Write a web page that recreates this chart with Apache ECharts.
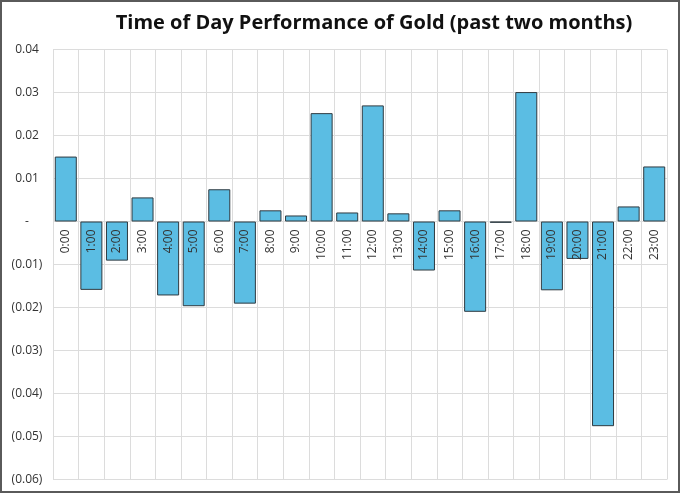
<!DOCTYPE html>
<html>
<head>
<meta charset="utf-8">
<script src="https://cdn.jsdelivr.net/npm/echarts@6/dist/echarts.min.js"></script>
<style>
html,body{margin:0;padding:0;background:#fff;}
#chart{width:680px;height:493px;}
</style>
</head>
<body>
<div id="chart"></div>
<script>
const hours = ['0:00','1:00','2:00','3:00','4:00','5:00','6:00','7:00','8:00','9:00','10:00','11:00','12:00','13:00','14:00','15:00','16:00','17:00','18:00','19:00','20:00','21:00','22:00','23:00'];
const performance = [0.0151,-0.0159,-0.0091,0.0056,-0.0172,-0.0197,0.0075,-0.0191,0.0026,0.0014,0.0252,0.0021,0.0270,0.0019,-0.0114,0.0026,-0.0210,-0.0003,0.0301,-0.0160,-0.0087,-0.0476,0.0035,0.0128];
const chartTitle = 'Time of Day Performance of Gold (past two months)';
const yMin = -0.06, yMax = 0.04, yStep = 0.01;

const chart = echarts.init(document.getElementById('chart'));
function fmt(v){
  if (Math.abs(v) < 1e-9) return '-';
  if (v < 0) return '(' + Math.abs(v).toFixed(2) + ')';
  return v.toFixed(2);
}
chart.setOption({
  animation:false,
  title:{
    text: chartTitle,
    left: 369, top: 8, textAlign:'center',
    textStyle:{fontFamily:'Open Sans', fontWeight:'bold', fontSize:20, color:'#111'}
  },
  graphic:[{type:'rect', shape:{x:1,y:1,width:678,height:491}, style:{fill:'none', stroke:'#5a5a5a', lineWidth:2}, z:100}],
  grid:{left:53, right:13, top:49.5, bottom:13.5, containLabel:false, outerBoundsMode:'none'},
  xAxis:{
    type:'category', data:hours, z:5, position:'bottom',
    axisLine:{show:false, onZero:false},
    axisTick:{show:false},
    axisLabel:{rotate:90, margin:8, fontFamily:'Open Sans', fontSize:12, color:'#333', interval:0},
    splitLine:{show:true, interval:0, lineStyle:{color:'#dcdcdc', width:1}}
  },
  yAxis:{
    type:'value', min:yMin, max:yMax, interval:yStep,
    axisLine:{show:false}, axisTick:{show:false},
    axisLabel:{formatter:fmt, align:'center', margin:26, fontFamily:'Open Sans', fontSize:12, color:'#333'},
    splitLine:{lineStyle:{color:'#dcdcdc', width:1}}
  },
  series:[{
    type:'bar', data:performance, barCategoryGap:'14%',
    itemStyle:{color:'#5BBDE3', borderColor:'#2f3a40', borderWidth:1}
  }]
});
// move the category axis up to the zero line using the value axis' own scale
const zeroPx = chart.convertToPixel({yAxisIndex:0}, 0);
const bottomPx = chart.convertToPixel({yAxisIndex:0}, yMin);
chart.setOption({xAxis:{offset: -(bottomPx - zeroPx)}});
</script>
</body>
</html>
